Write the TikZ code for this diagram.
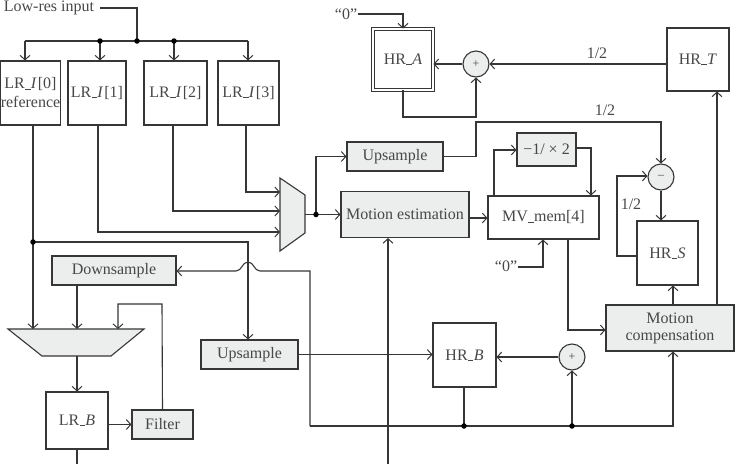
\documentclass[tikz,border=0pt]{standalone}
\usepackage{fontspec}
\setmainfont{Liberation Serif}
\usetikzlibrary{arrows.meta}
\definecolor{ln}{HTML}{363636}
\definecolor{txt}{HTML}{474747}
\definecolor{gfill}{HTML}{ECEDED}
\newcommand\us{\kern0.3pt\rule[-0.3pt]{5.5pt}{0.7pt}\kern0.3pt}
\tikzset{
  every node/.style={font=\fontsize{16pt}{19pt}\selectfont, text=txt},
  wire/.style={draw=ln, line width=1.1pt},
  arr/.style={wire, -{Straight Barb[length=4.5pt,width=10pt,line width=1pt]}},
  wbox/.style={draw=ln, line width=1.1pt, rectangle, inner sep=0pt, fill=white, align=center},
  gbox/.style={wbox, fill=gfill},
  sumc/.style={draw=ln, line width=1.1pt, circle, minimum size=26pt, inner sep=0pt, fill=gfill, font=\fontsize{12pt}{12pt}\selectfont},
  jdot/.style={circle, fill=black, inner sep=0pt, minimum size=5.5pt},
  lab/.style={inner sep=1pt}
}
\begin{document}
\begin{tikzpicture}[x=1pt,y=-1pt]
\useasboundingbox (0,0) rectangle (737,464);

% ---- nodes ----
\node[lab] (lowres) at (49,8) {Low-res input};
\node[wbox, minimum width=59pt, minimum height=64pt] (lr0) at (30.5,93) {LR\us\textit{I}\kern1pt[0]\\reference};
\node[wbox, minimum width=58pt, minimum height=64pt] (lr1) at (97,93) {LR\us\textit{I}\kern1pt[1]};
\node[wbox, minimum width=63pt, minimum height=64pt] (lr2) at (175.5,93) {LR\us\textit{I}\kern1pt[2]};
\node[wbox, minimum width=61pt, minimum height=64pt] (lr3) at (248.5,93) {LR\us\textit{I}\kern1pt[3]};

\node[wbox, minimum width=60pt, minimum height=61pt, double=white, double distance=1.8pt, line width=0.9pt] (hra) at (403,59.5) {HR\us\textit{A}};
\node[wbox, minimum width=62pt, minimum height=63pt] (hrt) at (698,59.5) {HR\us\textit{T}};
\node[sumc] (plusA) at (476,64) {+};
\node[lab] (zeroA) at (346,14) {“0”};

\node[gbox, minimum width=96pt, minimum height=29pt] (up1) at (395,156.5) {Upsample};
\node[gbox, minimum width=128pt, minimum height=46pt] (me) at (405,214.5) {Motion estimation};
\node[wbox, minimum width=111pt, minimum height=43pt] (mv) at (543.5,217.5) {MV\us mem[4]};
\node[gbox, minimum width=59pt, minimum height=33pt] (neg) at (546.5,149.5) {−1/ × 2};
\node[lab] (zeroM) at (506,266) {“0”};
\node[sumc] (minus) at (661,177) {–};
\node[wbox, minimum width=61pt, minimum height=64pt] (hrs) at (667.5,253) {HR\us\textit{S}};
\node[gbox, minimum width=128pt, minimum height=46pt] (mc) at (670,328) {Motion\\[-2pt]compensation};

\node[wbox, minimum width=63pt, minimum height=64pt] (hrb) at (464.5,355) {HR\us\textit{B}};
\node[sumc] (plusB) at (572,357) {+};
\node[gbox, minimum width=97pt, minimum height=29pt] (up2) at (249.5,354.5) {Upsample};
\node[gbox, minimum width=124pt, minimum height=29pt] (ds) at (114,270.5) {Downsample};
\node[wbox, minimum width=62pt, minimum height=57pt] (lrb) at (77,420.5) {LR\us\textit{B}};
\node[gbox, minimum width=61pt, minimum height=29pt] (filt) at (162.5,424.5) {Filter};

\node[lab] (h1) at (597,53) {1/2};
\node[lab] (h2) at (605,110) {1/2};
\node[lab] (h3) at (631,204) {1/2};

% ---- multiplexers ----
\draw[wire, fill=gfill] (280,178) -- (305,195) -- (305,233) -- (280,251) -- cycle;
\coordinate (m1out) at (305,214.5);
\draw[wire, fill=gfill] (8,329) -- (144,329) -- (111,356) -- (42,356) -- cycle;
\coordinate (m2out) at (77,356);

% ---- junction coordinates ----
\coordinate (jin) at (137,41);
\coordinate (b0) at (25,41);
\coordinate (b1) at (100,41);
\coordinate (b2) at (174,41);
\coordinate (b3) at (248,41);
\coordinate (jref) at (33,242);
\coordinate (jme) at (316,214.5);
\coordinate (jhb) at (464,426);
\coordinate (jpb) at (572,426);
\coordinate (bl) at (310,426);
\coordinate (botme) at (388,464);
\coordinate (botlrb) at (77,464);

% ---- input bus ----
\draw[wire] (100,8) -- (137,8) -- (jin);
\draw[wire] (b0) -- (b3);
\draw[arr] (b0) -- (b0 |- lr0.north);
\draw[arr] (b1) -- (b1 |- lr1.north);
\draw[arr] (b2) -- (b2 |- lr2.north);
\draw[arr] (b3) -- (b3 |- lr3.north);

% ---- LR outputs ----
\draw[wire] (lr0.south -| jref) -- (jref);
\draw[arr] (jref) -- (33,329);
\draw[arr] (jref) -- (248,242) -- (up2.north -| 248,0);
\draw[arr] (lr1.south -| 98,0) -- (98,232) -- (280,232);
\draw[arr] (lr2.south -| 173,0) -- (173,211) -- (280,211);
\draw[arr] (lr3.south -| 246,0) -- (246,192) -- (280,192);

% ---- motion estimation path ----
\draw[wire] (m1out) -- (jme);
\draw[arr] (jme) -- (me.west |- jme);
\draw[arr] (jme) -- (jme |- up1.west) -- (up1.west);
\draw[arr] (up1.east) -- (476,156.5) -- (476,122) -- (661,122) -- (minus.north);
\draw[arr] (me.east |- 0,218) -- (mv.west |- 0,218);
\draw[arr] (mv.north -| 494,0) -- (494,150) -- (neg.west |- 0,150);
\draw[arr] (neg.east |- 0,148) -- (591,148) -- (mv.north -| 591,0);
\draw[arr] (zeroM.east |- 0,267) -- (543,267) -- (mv.south -| 543,0);
\draw[arr] (mv.south -| 568,0) -- (568,330) -- (mc.west |- 0,330);
\draw[arr] (botme) -- (me.south -| botme);

% ---- HR_A loop ----
\draw[arr] (zeroA.east |- 0,14) -- (403,14) -- (hra.north);
\draw[arr] (hrt.west |- plusA.east) -- (plusA.east);
\draw[arr] (plusA.west) -- (hra.east |- plusA.west);
\draw[arr] (hra.south) -- (403,117) -- (476,117) -- (plusA.south);

% ---- HR_S / HR_T ----
\draw[arr] (minus.south) -- (hrs.north -| minus.south);
\draw[arr] (hrs.west |- 0,256) -- (617,256) -- (617,176) -- (minus.west |- 0,176);
\draw[arr] (mc.north -| 673,0) -- (hrs.south -| 673,0);
\draw[arr] (mc.north -| 717,0) -- (hrt.south -| 717,0);

% ---- HR_B loop ----
\draw[arr] (up2.east) -- (hrb.west |- up2.east);
\draw[arr] (plusB.west) -- (hrb.east |- plusB.west);
\draw[wire] (hrb.south -| jhb) -- (jhb);
\draw[arr] (bl) -- (673,426) -- (mc.south -| 673,0);
\draw[arr] (jpb) -- (plusB.south);
\draw[arr] (bl) -- (310,271) -- (260,271)
   .. controls (254,271) and (254,262) .. (248,262)
   .. controls (242,262) and (242,271) .. (236,271) -- (ds.east |- 0,271);

% ---- low-res reconstruction ----
\draw[arr] (ds.south -| 77,0) -- (77,329);
\draw[arr] (filt.north) -- (162,304) -- (118,304) -- (118,329);
\draw[arr] (m2out) -- (lrb.north);
\draw[arr] (lrb.east |- filt.west) -- (filt.west);
\draw[wire] (lrb.south) -- (botlrb);

% ---- dots ----
\foreach \p in {jin,b1,b2,jref,jme,jhb,jpb} \node[jdot] at (\p) {};
\end{tikzpicture}
\end{document}
